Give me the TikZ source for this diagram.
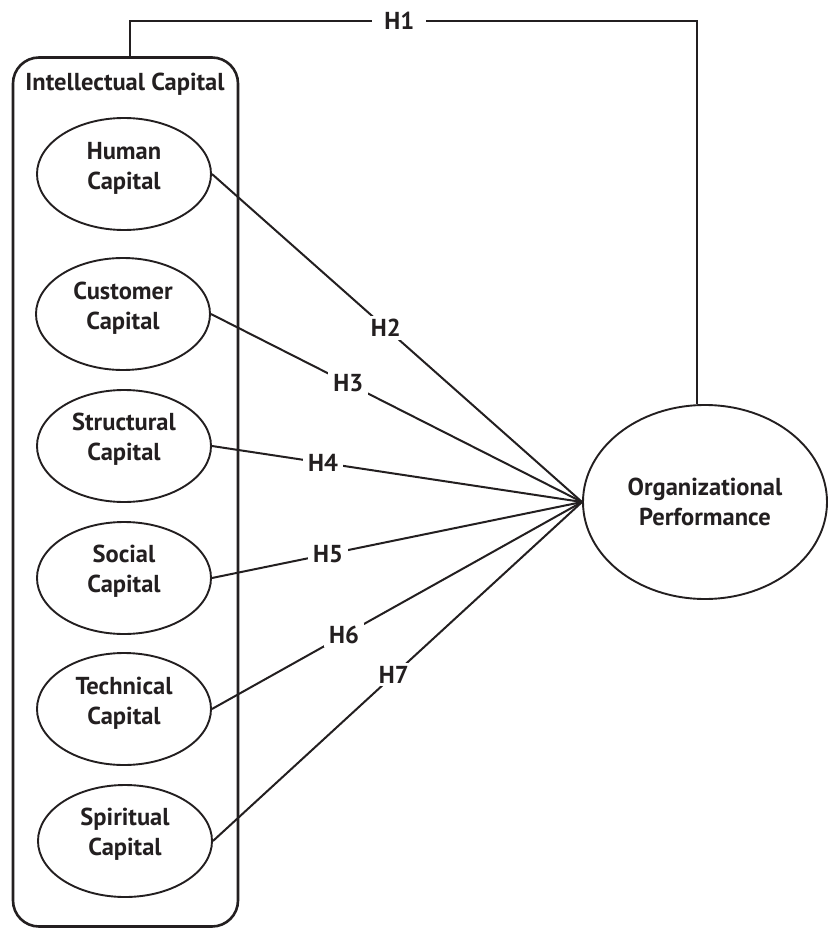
\documentclass[tikz,border=0pt]{standalone}
\usepackage{fontspec}
\setmainfont{PT Sans}
\usetikzlibrary{shapes.geometric}
\definecolor{ink}{HTML}{231F20}
\begin{document}
\begin{tikzpicture}[x=1pt,y=-1pt,
  txt/.style={font=\bfseries\fontsize{24.5}{30}\selectfont, text=ink, align=center},
  capnode/.style={ellipse, draw=ink, line width=1.9pt, minimum width=174pt, minimum height=112pt, inner sep=0pt},
  conn/.style={draw=ink, line width=2pt},
  lbl/.style={fill=white, inner xsep=5pt, inner ysep=3pt, txt}]
\useasboundingbox (0,0) rectangle (828,928);
\node[draw=ink, line width=2.6pt, rounded corners=26pt, minimum width=225pt, minimum height=869pt, inner sep=0pt] (icbox) at (125.5,492) {};
\node[txt] (ictitle) at (125,84) {Intellectual Capital};
\node[capnode] (hc) at (124,174) {};
\node[capnode] (cc) at (123,314) {};
\node[capnode] (sc) at (124,446) {};
\node[capnode] (soc) at (124,578) {};
\node[capnode] (tc) at (124,709) {};
\node[capnode] (spc) at (125,841) {};
\node[txt] (hct) at (124,168) {Human\\Capital};
\node[txt] (cct) at (123,308) {Customer\\Capital};
\node[txt] (sct) at (124,439) {Structural\\Capital};
\node[txt] (soct) at (124,571) {Social\\Capital};
\node[txt] (tct) at (124,703) {Technical\\Capital};
\node[txt] (spct) at (125,834) {Spiritual\\Capital};
\node[ellipse, draw=ink, line width=1.9pt, minimum width=244pt, minimum height=194pt, inner sep=0pt] (op) at (705,502) {};
\node[txt] (opt) at (705,502) {Organizational\\Performance};
\coordinate (h1a) at (130,21);
\coordinate (h1b) at (697,21);
\draw[conn] ([xshift=4.5pt]icbox.north) -- (h1a) -- node[lbl, inner xsep=12pt, pos=0.475]{H1} (h1b) -- (op.north -| h1b);
\draw[conn] (hc.east) -- node[lbl,pos=0.47]{H2} (op.west);
\draw[conn] (cc.east) -- node[lbl,pos=0.37]{H3} (op.west);
\draw[conn] (sc.east) -- node[lbl,pos=0.30]{H4} (op.west);
\draw[conn] (soc.east) -- node[lbl,pos=0.314]{H5} (op.west);
\draw[conn] (tc.east) -- node[lbl,pos=0.357]{H6} (op.west);
\draw[conn] (spc.east) -- node[lbl,pos=0.49]{H7} (op.west);
\end{tikzpicture}
\end{document}
